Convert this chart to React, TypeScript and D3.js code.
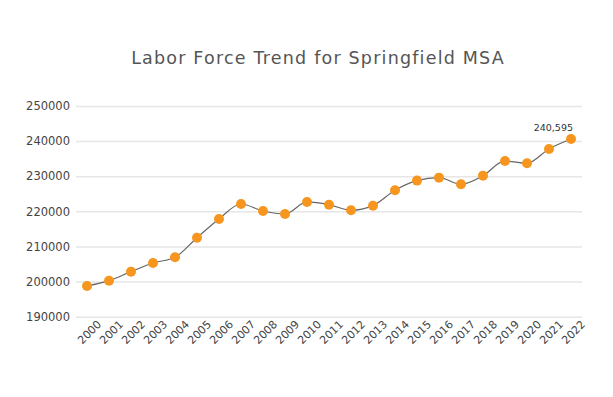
import { useEffect, useRef } from "react";
import * as d3 from "d3";

const years = [
  "2000", "2001", "2002", "2003", "2004", "2005", "2006", "2007", "2008", "2009", "2010", "2011",
  "2012", "2013", "2014", "2015", "2016", "2017", "2018", "2019", "2020", "2021", "2022",
];
const laborForce = [
  198750, 200260, 202820, 205300, 206920, 212500, 217830, 222100, 220110, 219260, 222680, 221900,
  220300, 221620, 226010, 228750, 229600, 227720, 230170, 234360, 233700, 237780, 240595,
];
const yTicks = [190000, 200000, 210000, 220000, 230000, 240000, 250000];
const title = "Labor Force Trend for Springfield MSA";

const W = 613;
const H = 397;
const FONT = "'DejaVu Sans', sans-serif";

export default function App() {
  const ref = useRef<SVGSVGElement>(null);

  useEffect(() => {
    const svg = d3.select(ref.current);
    svg.selectAll("*").remove();

    const left = 76;
    const right = 582;
    const top = 106;
    const bottom = 316.7;

    const x = d3.scalePoint<string>().domain(years).range([left, right]).padding(0.5);
    const y = d3.scaleLinear().domain([190000, 250000]).range([bottom, top]);

    svg
      .append("text")
      .attr("x", 318)
      .attr("y", 64)
      .attr("text-anchor", "middle")
      .attr("font-family", FONT)
      .attr("font-size", 17.5)
      .attr("letter-spacing", 1.2)
      .attr("fill", "#555")
      .text(title);

    // grid + y labels
    const yAxis = svg
      .append("g")
      .attr("transform", `translate(${left},0)`)
      .call(
        d3
          .axisLeft(y)
          .tickValues(yTicks)
          .tickSize(-(right - left))
          .tickPadding(6)
          .tickFormat((d) => String(d))
      );
    yAxis.select(".domain").remove();
    yAxis.selectAll(".tick line").attr("stroke", "#e6e6e6").attr("stroke-width", 1.5);
    yAxis
      .selectAll(".tick text")
      .attr("font-family", FONT)
      .attr("font-size", 11.5)
      .attr("fill", "#444");

    // x labels, rotated
    const xg = svg.append("g");
    xg.selectAll("text")
      .data(years)
      .enter()
      .append("text")
      .attr("transform", (d) => `translate(${(x(d) ?? 0) + 15},325) rotate(-45)`)
      .attr("text-anchor", "end")
      .attr("font-family", FONT)
      .attr("font-size", 11)
      .attr("fill", "#444")
      .text((d) => d);

    const line = d3
      .line<number>()
      .x((_, i) => x(years[i]) ?? 0)
      .y((d) => y(d))
      .curve(d3.curveMonotoneX);

    svg
      .append("path")
      .datum(laborForce)
      .attr("d", line)
      .attr("fill", "none")
      .attr("stroke", "#666")
      .attr("stroke-width", 1.2);

    svg
      .append("g")
      .selectAll("circle")
      .data(laborForce)
      .enter()
      .append("circle")
      .attr("cx", (_, i) => x(years[i]) ?? 0)
      .attr("cy", (d) => y(d))
      .attr("r", 5)
      .attr("fill", "#f7961f");

    const last = laborForce.length - 1;
    svg
      .append("text")
      .attr("x", (x(years[last]) ?? 0) + 2)
      .attr("y", y(laborForce[last]) - 8)
      .attr("text-anchor", "end")
      .attr("font-family", FONT)
      .attr("font-size", 9.5)
      .attr("fill", "#333")
      .text(d3.format(",")(laborForce[last]));
  }, []);

  return (
    <div style={{ position: "absolute", left: 0, top: 0, width: W, height: H, background: "#fff" }}>
      <svg ref={ref} width={W} height={H}></svg>
    </div>
  );
}
